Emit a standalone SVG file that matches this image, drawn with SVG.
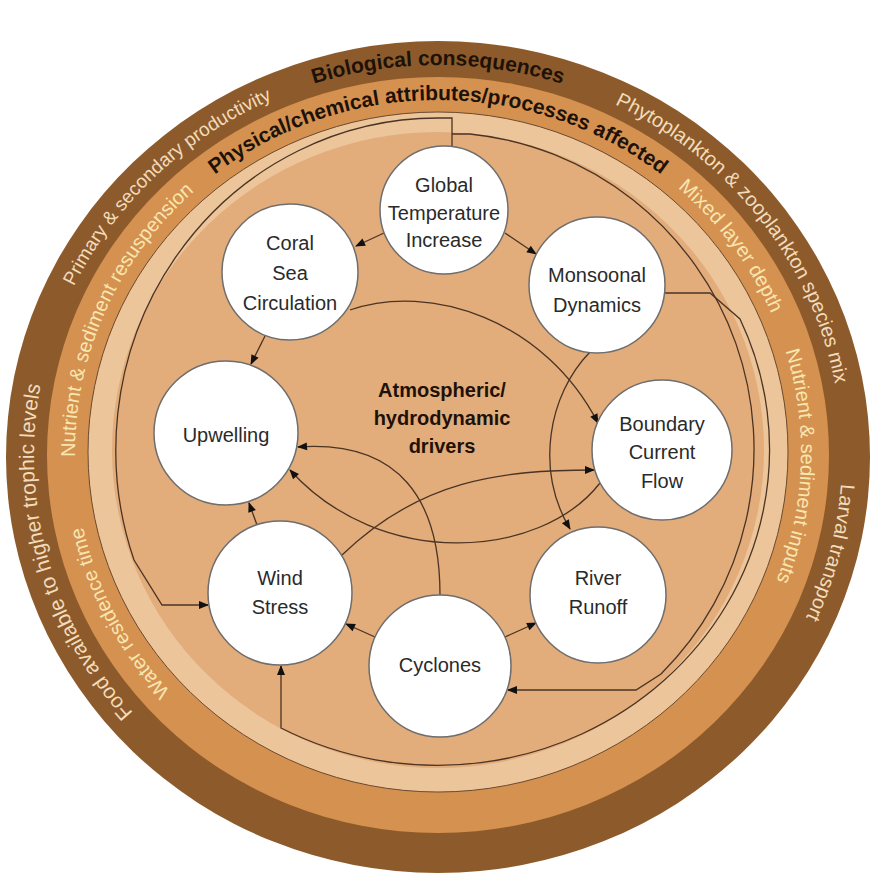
<svg xmlns="http://www.w3.org/2000/svg" width="873" height="878" viewBox="0 0 873 878">
<style>
.node circle{fill:#ffffff;stroke:#6e6e6e;stroke-width:1.5}
.node text,.center text{font-family:"Liberation Sans",Arial,sans-serif;font-size:20px;fill:#2a2a2a;text-anchor:middle}
.center text{font-weight:bold;fill:#1e1208}
.conn path{fill:none;stroke:#4a3424;stroke-width:1.3}
.conn path.a{marker-end:url(#ah)}
.rt{font-family:"Liberation Sans",Arial,sans-serif;font-size:20px;text-anchor:middle}
.rd{fill:#f2dcbc}
.ro{fill:#f8e6b0}
.rb{font-weight:bold;fill:#1e1208;font-size:21px}
</style>
<defs>
<marker id="ah" viewBox="0 0 10 10" refX="9" refY="5" markerWidth="11" markerHeight="10" markerUnits="userSpaceOnUse" orient="auto"><path d="M0,1 L10,5 L0,9 Z" fill="#111"/></marker>
<path id="rDark" d="M 438 847 A 404 391 0 1 1 438 65 A 404 391 0 1 1 438 847"/>
<path id="rOr" d="M 438 806 A 363 353 0 1 1 438 100 A 363 353 0 1 1 438 806"/>
</defs>

<g id="rings">
<ellipse cx="438" cy="457" rx="432" ry="416" fill="#8d5b2b"/>
<ellipse cx="438" cy="455" rx="391" ry="378" fill="#d59150"/>
<ellipse cx="438" cy="452" rx="350" ry="340" fill="#edc59b" stroke="#6b4a30" stroke-width="1"/>
<ellipse cx="438" cy="450" rx="326" ry="318" fill="#e2ac7b"/>
</g>

<g id="ring-labels">
<text class="rt rb"><textPath href="#rDark" startOffset="50%">Biological consequences</textPath></text>
<text class="rt rd"><textPath href="#rDark" startOffset="64.7%">Phytoplankton &amp; zooplankton species mix</textPath></text>
<text class="rt rd"><textPath href="#rDark" startOffset="78.9%">Larval transport</textPath></text>
<text class="rt rd" style="font-size:21px"><textPath href="#rDark" startOffset="20.8%">Food available to higher trophic levels</textPath></text>
<text class="rt rd" style="font-size:19px"><textPath href="#rDark" startOffset="37.6%">Primary &amp; secondary productivity</textPath></text>
<text class="rt rb"><textPath href="#rOr" startOffset="50%">Physical/chemical attributes/processes affected</textPath></text>
<text class="rt ro"><textPath href="#rOr" startOffset="31.5%">Nutrient &amp; sediment resuspension</textPath></text>
<text class="rt ro"><textPath href="#rOr" startOffset="17.5%">Water residence time</textPath></text>
<text class="rt ro"><textPath href="#rOr" startOffset="65.1%">Mixed layer depth</textPath></text>
<text class="rt ro"><textPath href="#rOr" startOffset="75.6%">Nutrient &amp; sediment inputs</textPath></text>
</g>

<g id="connectors" class="conn">
<path class="a" d="M 384 233 L 356 246"/>
<path class="a" d="M 505 233 L 536 254"/>
<path class="a" d="M 265 336 L 251 364"/>
<path class="a" d="M 350 310 C 430 282, 545 320, 598 423"/>
<path class="a" d="M 590 352 C 548 395, 535 470, 570 529"/>
<path class="a" d="M 600 483 C 540 560, 380 570, 290 470"/>
<path class="a" d="M 342 555 C 420 480, 500 470, 594 470"/>
<path class="a" d="M 440 595 C 440 500, 400 440, 298 447"/>
<path class="a" d="M 257 525 L 249 503"/>
<path class="a" d="M 375 637 L 346 624"/>
<path class="a" d="M 505 637 L 536 623"/>
<path class="a" d="M 452 147 V 118 H 438 A 322 332 0 0 0 134 560 L 162 605 H 208"/>
<path class="a" d="M 452 134 H 470 A 316 317 0 0 1 661 674 L 636 690 H 508"/>
<path class="a" d="M 665 293 H 710 L 740 319 A 332 316 0 0 1 281 728 V 666"/>
</g>

<g id="n-global" class="node"><circle cx="444" cy="210" r="64"/><text x="444" y="192">Global</text><text x="444" y="220">Temperature</text><text x="444" y="247">Increase</text></g>
<g id="n-coral" class="node"><circle cx="290" cy="272" r="68"/><text x="290" y="250">Coral</text><text x="290" y="280">Sea</text><text x="290" y="310">Circulation</text></g>
<g id="n-monsoonal" class="node"><circle cx="597" cy="285" r="68"/><text x="597" y="282">Monsoonal</text><text x="597" y="312">Dynamics</text></g>
<g id="n-upwelling" class="node"><circle cx="226" cy="433" r="72"/><text x="226" y="442">Upwelling</text></g>
<g id="n-boundary" class="node"><circle cx="662" cy="450" r="70"/><text x="662" y="431">Boundary</text><text x="662" y="459">Current</text><text x="662" y="488">Flow</text></g>
<g id="n-wind" class="node"><circle cx="280" cy="593" r="72"/><text x="280" y="585">Wind</text><text x="280" y="614">Stress</text></g>
<g id="n-river" class="node"><circle cx="598" cy="595" r="68"/><text x="598" y="585">River</text><text x="598" y="614">Runoff</text></g>
<g id="n-cyclones" class="node"><circle cx="440" cy="666" r="71"/><text x="440" y="672">Cyclones</text></g>
<g id="center" class="center"><text x="442" y="397">Atmospheric/</text><text x="442" y="425">hydrodynamic</text><text x="442" y="453">drivers</text></g>
</svg>
